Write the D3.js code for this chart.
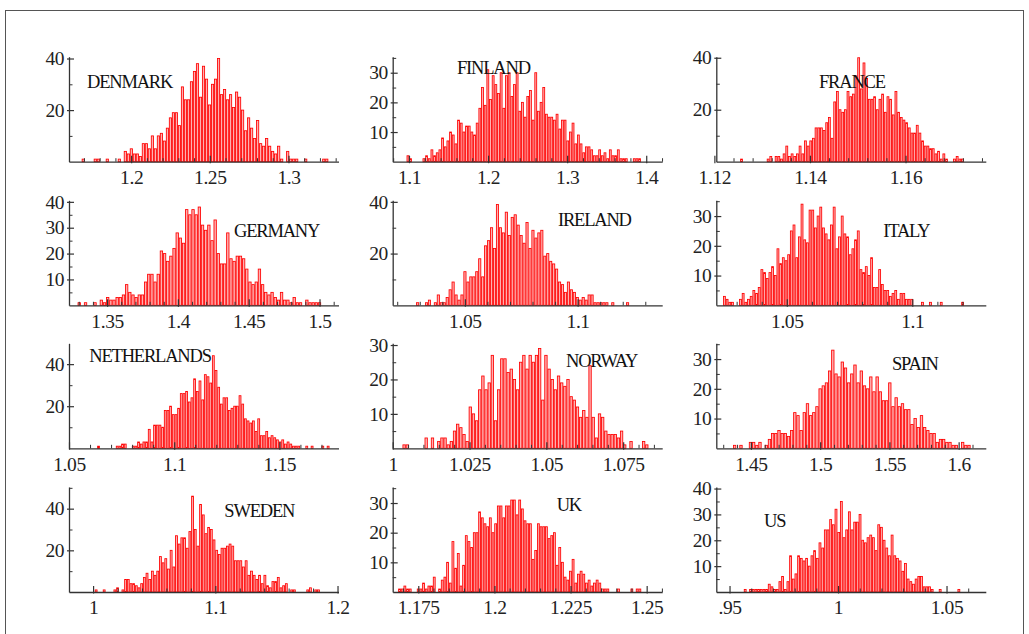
<!DOCTYPE html>
<html><head><meta charset="utf-8">
<script src="https://cdn.jsdelivr.net/npm/d3@7"></script>
<style>body{margin:0;background:#fff}svg{display:block}</style>
</head><body><svg id="c" width="1029" height="634"></svg>
<script>
// ---------- data ----------
const countries = ["DENMARK","FINLAND","FRANCE","GERMANY","IRELAND","ITALY","NETHERLANDS","NORWAY","SPAIN","SWEDEN","UK","US"];

const denmarkCounts = [1,0,0,0,1,1,0,0,1,0, 0,0,1,0,4,3,5,3,3,2, 7,7,5,10,5,10,11,8,13,17, 19,19,14,29,24,24,31,35,38,25, 37,32,22,30,32,40,26,28,24,26, 21,27,25,20,12,17,13,9,16,7, 6,9,6,4,3,6,1,0,4,1, 1,1,0,0,1,0,0,0,0,0, 1,1];
const finlandCounts = [2,1,0,0,0,0,1,2,1,4, 2,3,4,8,5,7,10,9,6,14, 13,10,12,12,10,9,13,18,25,19, 31,21,29,26,23,30,18,29,30,22, 26,30,17,20,15,22,24,14,30,17, 20,25,16,15,15,14,16,11,14,14, 7,10,13,6,9,6,3,5,5,4, 2,2,4,2,3,1,4,2,2,4, 1,1,1,0,0,1,1,1];
const franceCounts = [1,0,0,0,0,0,0,0,0,0, 1,2,0,2,2,1,3,6,2,3, 2,3,6,3,8,6,8,9,13,13, 13,12,15,17,9,23,27,20,19,20, 27,25,26,33,40,28,38,32,24,24, 25,20,24,26,19,25,24,18,27,19, 17,16,15,13,11,11,14,11,8,6, 6,5,5,3,4,1,3,1,0,0, 1,2,1,1];
const germanyCounts = [1,0,1,0,0,1,0,2,1,3, 2,2,3,3,4,8,5,4,3,4, 4,9,12,12,9,12,21,20,17,19, 22,28,26,24,37,35,37,35,38,31, 29,31,25,33,20,16,16,28,18,17, 19,19,18,14,9,8,9,14,8,5, 4,5,3,2,5,2,2,1,3,1, 1,0,2,1,1,1,1];
const irelandCounts = [1,0,0,1,2,0,1,4,1,1, 3,6,9,4,2,4,13,9,11,11, 13,18,11,23,25,30,22,39,30,28, 36,27,34,35,31,27,24,32,22,29, 26,28,29,19,20,17,16,14,9,8, 5,9,6,5,3,2,3,2,4,4, 1,1,1,1,1,0,1,0,0,0, 0,1];
const italyCounts = [3,2,1,1,0,0,2,4,1,2, 3,5,4,6,12,11,9,11,13,10, 19,14,16,15,17,25,27,16,23,34, 22,21,32,32,26,30,33,26,24,22, 27,33,19,23,30,24,23,17,19,22, 25,12,11,13,10,16,6,6,12,7, 5,5,3,4,5,2,4,4,2,2, 2,0,0,0,1,0,0,1,0,0, 0,1,0,0,0,0,0,0,0,1];
const netherlandsCounts = [1,0,0,0,0,0,0,1,1,2, 2,0,0,1,1,3,2,3,3,9, 3,11,11,11,10,18,18,20,16,16, 19,26,26,27,22,24,33,27,32,23, 35,34,31,44,37,29,21,24,24,18, 19,20,20,25,21,14,13,12,13,8, 14,6,6,8,5,6,5,4,3,4, 2,3,2,1,1,1,0,0,1,0, 1,0,0,0,1,0,1];
const norwayCounts = [1,1,0,0,0,0,0,3,0,3, 0,2,3,3,1,2,5,7,6,4, 2,12,10,8,17,21,17,19,27,8, 17,26,26,22,23,20,17,25,27,23, 27,25,27,29,14,27,23,20,17,21, 19,18,20,15,14,12,9,11,9,24, 9,3,10,9,5,4,4,4,3,5, 1,0,2,0,0,0,2,1];
const spainCounts = [1,0,1,0,0,2,2,1,2,0, 1,3,5,5,6,5,5,4,6,12, 11,6,12,15,11,12,14,20,21,22, 26,33,25,24,29,27,22,25,28,22, 26,21,20,24,19,24,19,16,16,22, 14,17,14,15,13,13,8,10,7,11, 7,6,5,5,2,3,3,2,2,1, 1,0,2,1,1];
const swedenCounts = [1,0,0,1,0,0,0,1,2,0, 1,6,6,4,4,3,2,4,7,9, 6,10,8,10,17,14,16,11,20,12, 27,23,26,26,21,29,46,30,22,42, 37,28,31,30,25,20,18,21,21,22, 23,22,15,15,15,12,15,8,10,8, 6,8,4,8,3,2,5,5,7,2, 3,4,0,1,1,0,0,0,0,1, 2,0,1,1];
const ukCounts = [1,1,2,1,1,0,0,1,1,3, 1,2,2,5,0,1,4,5,10,3, 17,8,13,2,9,19,17,15,20,20, 27,25,23,22,25,20,23,29,29,25, 29,29,31,31,26,31,28,24,23,23, 11,14,23,22,22,22,18,19,20,9, 15,10,5,4,7,11,3,6,7,6, 3,4,2,3,4,3,1,1,1,0, 0,0,1,0,0,0,0,1,0,1, 1];
const usCounts = [1,0,1,1,1,1,1,1,1,3, 2,1,1,4,6,1,4,14,5,7, 14,13,12,13,10,14,16,13,19,17, 24,24,28,26,32,23,35,21,24,31, 24,27,27,30,20,19,21,22,21,16, 26,25,20,17,14,22,14,13,12,8, 11,5,4,3,5,6,6,2,2,2, 1,0,0,1,0,0,0,0,0,0, 1];

// first/last bin edges of each histogram
const binRanges = [[1.1686,1.3253],[1.0970,1.3933],[1.1254,1.1722],[1.3292,1.5011],[1.0284,1.1228],[1.0246,1.1206],
                   [1.0634,1.1738],[1.0032,1.0832],[1.4371,1.6086],[1.0014,1.1855],[1.1684,1.2482],[0.9566,1.0563]];
const xDomains = [[1.1605,1.3318],[1.0794,1.4202],[1.1204,1.1768],[1.3231,1.5134],[1.018,1.1375],[1.0219,1.1293],
                  [1.05,1.1781],[1.0,1.0877],[1.425,1.6196],[0.9803,1.2008],[1.1666,1.2551],[0.9439,1.0681]];
const yMaxes = [40.7,35.4,40.4,40.6,40.6,35.3,49.9,30.5,35.3,50.4,35.4,40.6];
const xTicks = [[1.2,1.25,1.3],[1.1,1.2,1.3,1.4],[1.12,1.14,1.16],[1.35,1.4,1.45,1.5],[1.05,1.1],[1.05,1.1],
                [1.05,1.1,1.15],[1,1.025,1.05,1.075],[1.45,1.5,1.55,1.6],[1,1.1,1.2],[1.175,1.2,1.225,1.25],[0.95,1,1.05]];
const xTickLabels = [["1.2","1.25","1.3"],["1.1","1.2","1.3","1.4"],["1.12","1.14","1.16"],["1.35","1.4","1.45","1.5"],
                     ["1.05","1.1"],["1.05","1.1"],["1.05","1.1","1.15"],["1","1.025","1.05","1.075"],
                     ["1.45","1.5","1.55","1.6"],["1","1.1","1.2"],["1.175","1.2","1.225","1.25"],[".95","1","1.05"]];
const xMinorSteps = [0.01,0.02,0.004,0.01,0.01,0.01,0.01,0.005,0.01,0.02,0.005,0.01];
const yTicks = [[20,40],[10,20,30],[20,40],[10,20,30,40],[20,40],[10,20,30],[20,40],[10,20,30],[10,20,30],[20,40],[10,20,30],[10,20,30,40]];
const yMinorSteps = [10,5,10,5,10,5,10,5,5,10,5,5];

const allCounts = [denmarkCounts,finlandCounts,franceCounts,germanyCounts,irelandCounts,italyCounts,
                   netherlandsCounts,norwayCounts,spainCounts,swedenCounts,ukCounts,usCounts];

// ---------- layout ----------
const colX = [69, 392.7, 716.3], plotW = 269.5;
const rowBase = [161.7, 305.3, 448.3, 592], plotH = 105;
const labelOffsets = [[18,-73.7],[64.3,-87.7],[102.7,-74],[165,-68.3],[165.3,-79.3],[167,-68.6],
                      [20.3,-86.6],[173.3,-81.6],[175.7,-78.3],[155.3,-75.3],[164,-81.3],[47.7,-65.3]];
const serif = "'Liberation Serif','Times New Roman',serif";

const svg = d3.select("#c");
svg.append("rect").attr("x",5.5).attr("y",10.5).attr("width",1018).attr("height",640)
   .attr("fill","none").attr("stroke","#555").attr("stroke-width",1);

function stepTicks(dom, step, majors){
  const out=[]; let k=Math.ceil(dom[0]/step-1e-6);
  while(k*step<=dom[1]+1e-9){ const v=+(k*step).toFixed(6);
    if(!majors.some(m=>Math.abs(m-v)<step*1e-3)) out.push(v); k++; }
  return out;
}

countries.forEach((name,i)=>{
  const r=Math.floor(i/3), c=i%3;
  const g=svg.append("g").attr("transform",`translate(${colX[c]},${rowBase[r]-plotH})`);
  const x=d3.scaleLinear().domain(xDomains[i]).range([0,plotW]);
  const y=d3.scaleLinear().domain([0,yMaxes[i]]).range([plotH,0]);
  const counts=allCounts[i], lo=binRanges[i][0], hi=binRanges[i][1];
  const bw=(hi-lo)/counts.length;
  const bins=counts.map((v,k)=>({x0:lo+k*bw,x1:lo+(k+1)*bw,v})).filter(d=>d.v>0);

  g.selectAll("rect.bar").data(bins).join("rect").attr("class","bar")
    .attr("x",d=>x(d.x0)+0.4)
    .attr("width",d=>Math.max(0.6,x(d.x1)-x(d.x0)-0.8))
    .attr("y",d=>y(d.v)).attr("height",d=>y(0)-y(d.v))
    .attr("fill","#ffb0b0").attr("stroke","#ff0000").attr("stroke-width",0.85);

  // x minor ticks
  const xm=g.append("g").attr("transform",`translate(0,${plotH})`).style("color","#333")
    .call(d3.axisBottom(x).tickValues(stepTicks(xDomains[i],xMinorSteps[i],xTicks[i])).tickSize(-3.5).tickFormat(""));
  xm.select(".domain").remove();
  xm.selectAll("line").attr("stroke-width",1);
  // x major axis
  const xa=g.append("g").attr("transform",`translate(0,${plotH})`).style("color","#333")
    .call(d3.axisBottom(x).tickValues(xTicks[i]).tickFormat((d,k)=>xTickLabels[i][k])
      .tickSizeInner(-6).tickSizeOuter(0).tickPadding(8.5));
  xa.select(".domain").attr("stroke-width",1.3);
  xa.selectAll("line").attr("stroke-width",1.2).attr("y1",1.5);
  xa.selectAll("text").attr("font-family",serif)
    .attr("font-size",19.5).attr("letter-spacing","-0.4px").attr("fill","#222");

  // y minor ticks
  const ymn=stepTicks([0.0001,yMaxes[i]],yMinorSteps[i],yTicks[i]);
  const ym=g.append("g").style("color","#333")
    .call(d3.axisLeft(y).tickValues(ymn).tickSize(-3.5).tickFormat(""));
  ym.select(".domain").remove();
  ym.selectAll("line").attr("stroke-width",1);
  // y major axis
  const ya=g.append("g").style("color","#333")
    .call(d3.axisLeft(y).tickValues(yTicks[i]).tickFormat(d3.format("d"))
      .tickSizeInner(-5).tickSizeOuter(0).tickPadding(5));
  ya.select(".domain").attr("stroke-width",1.3);
  ya.selectAll("line").attr("stroke-width",1.2).attr("x1",-2);
  ya.selectAll("text").attr("font-family",serif)
    .attr("font-size",19.5).attr("letter-spacing","-0.5px").attr("fill","#222");

  // country label
  g.append("text").attr("x",labelOffsets[i][0]).attr("y",plotH+labelOffsets[i][1])
    .attr("font-family",serif).attr("font-size",18.5)
    .attr("letter-spacing","-1.2px").attr("fill","#111").text(name);
});
</script>
</body></html>
